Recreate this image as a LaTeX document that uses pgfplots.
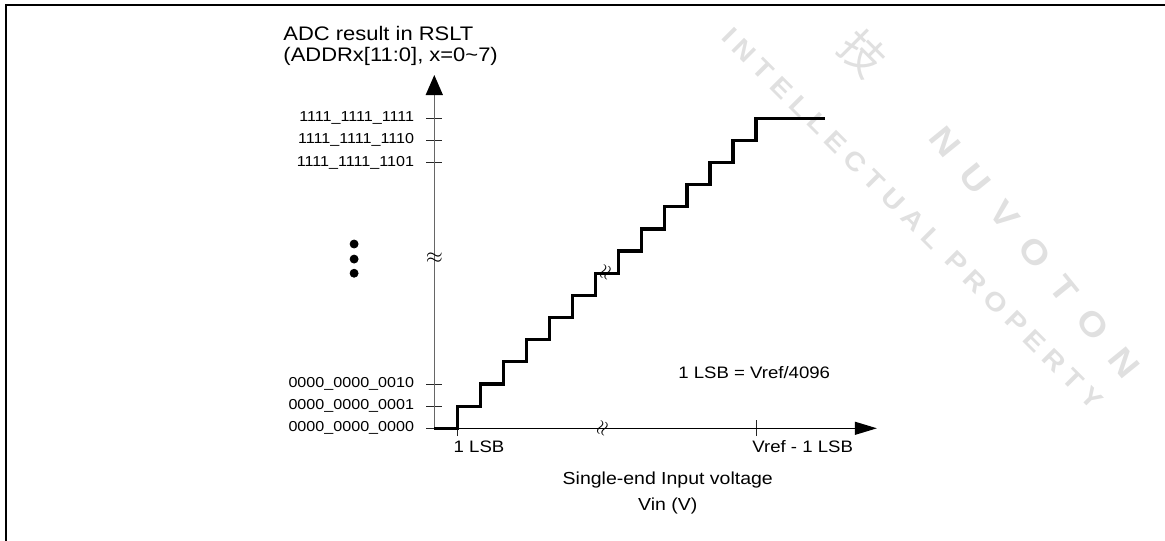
\documentclass[border=0pt]{standalone}
\usepackage{fontspec}
\setmainfont{Liberation Sans}[FakeStretch=1.12]
\newfontfamily\wmfont{Liberation Sans}[FakeStretch=1.12]
\newfontfamily\cjk{Noto Sans CJK SC}
\usepackage{pgfplots}
\pgfplotsset{compat=1.18}
\usetikzlibrary{arrows.meta}
\begin{document}
\begin{tikzpicture}
\path[use as bounding box] (-217.15pt,-55.85pt) rectangle (365.35pt,214.15pt);
% watermark
\node[rotate=-45, font=\wmfont\bfseries\addfontfeature{LetterSpace=28}\fontsize{13}{13}\selectfont, text=black!12] at (239.1pt,104.9pt) {INTELLECTUAL PROPERTY};
\node[rotate=-51, font=\wmfont\bfseries\addfontfeature{LetterSpace=60}\fontsize{17}{17}\selectfont, text=black!12] at (300pt,88pt) {NUVOTON};
\node[rotate=-45, font=\cjk\fontsize{22}{22}\selectfont, text=black!12] at (214.35pt,187.65pt) {技};
% frame
\draw[line width=1.1pt] (-214.15pt,-60pt) -- (-214.15pt,211.65pt) -- (370pt,211.65pt);
\begin{axis}[
  at={(0,0)}, anchor=south west,
  x=11.49pt, y=11.075pt,
  xmin=0, xmax=19.26, ymin=0, ymax=15.95,
  axis lines=left,
  clip=false,
  x axis line style={black, line width=0.55pt, -{Triangle[length=11pt,width=6.5pt]}},
  y axis line style={black!60, line width=0.65pt, -{Triangle[length=10pt,width=8.5pt,color=black]}},
  tick align=center,
  major tick length=7.8pt,
  tick style={black!85, line width=0.5pt},
  xtick={1,14},
  xticklabels={1 LSB, Vref - 1 LSB},
  ytick={0,1,2,12,13,14},
  yticklabels={0000\_0000\_0000,0000\_0000\_0001,0000\_0000\_0010,1111\_1111\_1101,1111\_1111\_1110,1111\_1111\_1111},
  yticklabel style={font=\fontsize{7.2}{8}\selectfont, anchor=east, inner sep=0pt, xshift=-6pt},
  xticklabel style={font=\fontsize{8.3}{10}\selectfont, anchor=north west, inner sep=0pt, xshift=-2pt, yshift=-2pt},
  every axis y label/.style={at={(axis cs:-6.58,18.16)}, anchor=north west, align=left, inner sep=0pt, font=\fontsize{9.8}{10.6}\selectfont},
  ylabel={ADC result in RSLT\\(ADDRx[11:0], x=0\textasciitilde 7)},
  every axis x label/.style={at={(axis cs:10.16,-1.93)}, anchor=north, align=center, inner sep=0pt, font=\fontsize{8.7}{13}\selectfont},
  xlabel={Single-end Input voltage\\Vin (V)},
]
\addplot[const plot, line width=1.6pt, black, line join=miter] coordinates {
(0,0) (1,1) (2,2) (3,3) (4,4) (5,5) (6,6) (7,7) (8,8) (9,9) (10,10) (11,11) (12,12) (13,13) (14,14) (17,14)};
\addplot[only marks, mark=*, mark size=2pt, black] coordinates {(-3.49,8.32) (-3.49,7.64) (-3.49,7.0)};
\node[inner sep=0pt, font=\fontsize{11}{11}\selectfont] at (axis cs:0,7.69) {$\approx$};
\node[inner sep=0pt, rotate=70, font=\fontsize{10}{10}\selectfont] at (axis cs:7.34,0) {$\approx$};
\node[inner sep=0pt, rotate=70, font=\fontsize{10}{10}\selectfont] at (axis cs:7.47,7.01) {$\approx$};
\node[anchor=base west, inner sep=0pt, font=\fontsize{8.3}{10}\selectfont] at (axis cs:10.6,2.23) {1 LSB = Vref/4096};
\end{axis}
\end{tikzpicture}
\end{document}
